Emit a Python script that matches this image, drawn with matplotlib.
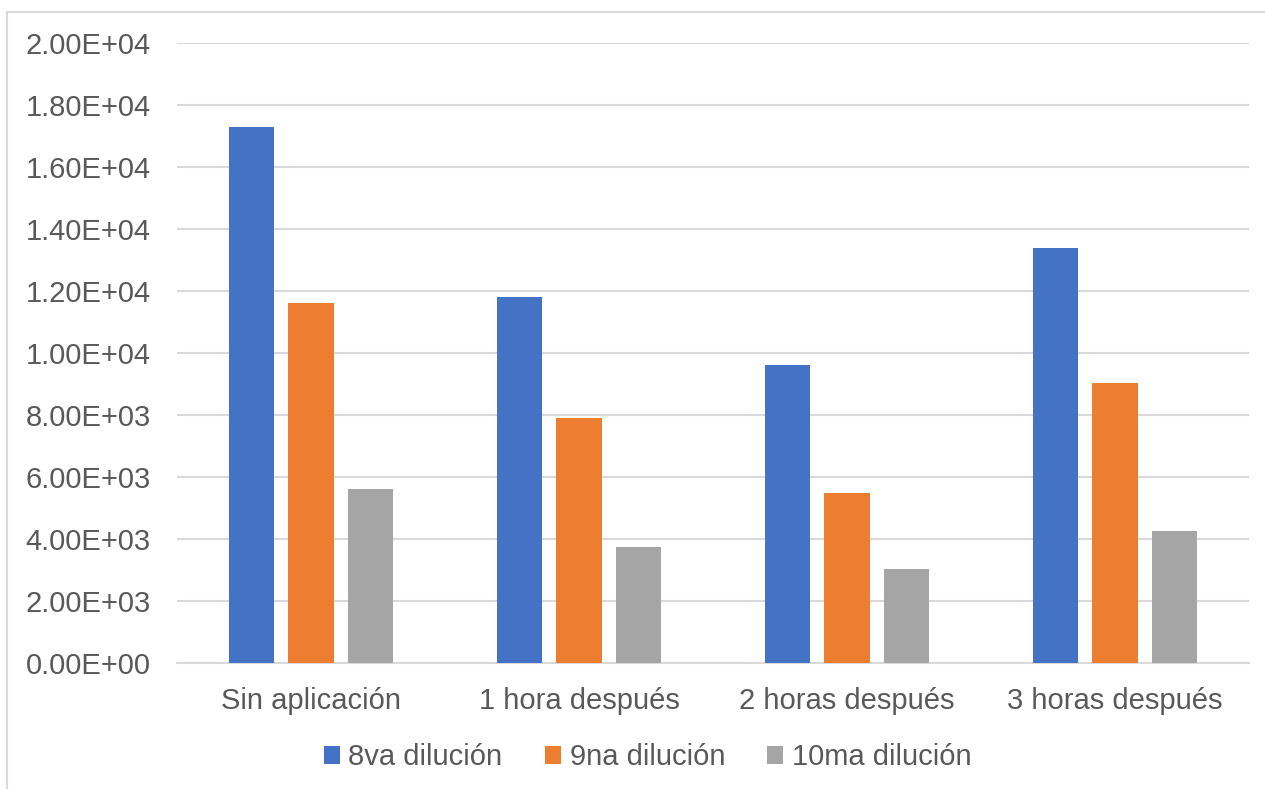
import numpy as np
import matplotlib.pyplot as plt
from matplotlib.lines import Line2D

plt.rcParams['font.family'] = ['Liberation Sans', 'DejaVu Sans']

# %% data
categorias = ["Sin aplicación", "1 hora después", "2 horas después", "3 horas después"]
series = ["8va dilución", "9na dilución", "10ma dilución"]
d8 = [17300, 11800, 9600, 13400]
d9 = [11600, 7900, 5480, 9030]
d10 = [5600, 3750, 3030, 4270]
colores = ["#4472C4", "#ED7D31", "#A5A5A5"]
yticks = np.arange(0, 20001, 2000)

def sci(v):
    # formato tipo Excel: 2.00E+04
    if v == 0:
        return "0.00E+00"
    e = int(np.floor(np.log10(v)))
    return "%.2fE+%02d" % (v / 10**e, e)

# %% figure
fig = plt.figure(figsize=(12.65, 7.89), dpi=100)
ax = fig.add_axes([0.1399, 0.1597, 0.8475, 0.7858])

x = np.arange(len(categorias))
w = 0.17
step = 0.222
for k, (vals, nom) in enumerate(zip([d8, d9, d10], series)):
    ax.bar(x + (k - 1) * step, vals, w, color=colores[k], label=nom, zorder=3)

ax.set_xlim(-0.5, len(categorias) - 0.5)
ax.set_ylim(0, 20000)
ax.set_yticks(yticks)
ax.set_yticklabels([sci(v) for v in yticks])
ax.set_xticks(x)
ax.set_xticklabels(categorias)
ax.tick_params(axis='y', length=0, pad=19, labelsize=21, labelcolor='#595959')
ax.tick_params(axis='x', length=0, pad=17, labelsize=21, labelcolor='#595959')
ax.grid(axis='y', color='#d9d9d9', linewidth=1.5, zorder=0)
for s in ['top', 'right', 'left']:
    ax.spines[s].set_visible(False)
ax.spines['bottom'].set_color('#d9d9d9')
ax.spines['bottom'].set_linewidth(1.5)

leg = fig.legend(loc='center', bbox_to_anchor=(0.512, 0.04), ncol=3, frameon=False,
                 fontsize=21, handlelength=0.55, handleheight=0.55, handletextpad=0.3,
                 columnspacing=1.45)
for t in leg.get_texts():
    t.set_color('#595959')

# chart area frame
fig.add_artist(Line2D([7 / 1265, 7 / 1265], [0, 1 - 12 / 789], transform=fig.transFigure,
                      color='#d9d9d9', linewidth=1.5))
fig.add_artist(Line2D([7 / 1265, 1], [1 - 12 / 789, 1 - 12 / 789], transform=fig.transFigure,
                      color='#d9d9d9', linewidth=1.5))

plt.savefig('out.png', dpi=100)
